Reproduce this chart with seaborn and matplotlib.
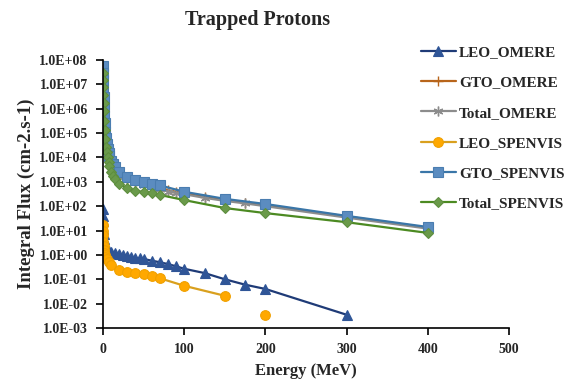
import numpy as np
import pandas as pd
import matplotlib
matplotlib.use("Agg")
import matplotlib.pyplot as plt
import seaborn as sns
from matplotlib.ticker import FuncFormatter, FixedLocator, NullLocator

# ---------------- data ----------------
omere_energy = [0.1, 0.2, 0.3, 0.5, 0.7, 1, 1.5, 2, 3, 5, 7, 10, 15, 20, 25, 30, 35, 40,
                45, 50, 60, 70, 80, 90, 100, 125, 150, 175, 200, 300, 400]
leo_omere = [75, 40, 25, 12, 7, 4.5, 3.0, 2.4, 1.9, 1.6, 1.45, 1.35, 1.2, 1.05, 0.95,
             0.88, 0.82, 0.76, 0.72, 0.68, 0.58, 0.5, 0.42, 0.34, 0.27, 0.18, 0.1, 0.06,
             0.04, 0.0035, np.nan]
gto_omere = [6e7, 3e7, 1.6e7, 6e6, 3e6, 1.3e6, 5e5, 2.5e5, 1e5, 3e4, 1.3e4, 6e3, 3.5e3,
             2.3e3, 1.8e3, 1.5e3, 1.3e3, 1.15e3, 1e3, 900, 760, 620, 450, 390, 340, 240,
             180, 140, 110, 38, 13]
total_omere = [5.5e7, 2.8e7, 1.5e7, 5.6e6, 2.8e6, 1.2e6, 4.6e5, 2.3e5, 9e4, 2.7e4,
               1.2e4, 5.5e3, 3.2e3, 2.1e3, 1.6e3, 1.35e3, 1.15e3, 1e3, 900, 800, 650, 520,
               400, 350, 310, 220, 165, 130, 100, 34, 12]

spenvis_energy = [0.1, 0.2, 0.3, 0.5, 0.7, 1, 1.5, 2, 3, 4, 5, 6, 7, 8, 10, 12, 15, 20,
                  30, 40, 50, 60, 70, 100, 150, 200, 300, 400]
gto_spenvis = [5.5e7, 3e7, 1.5e7, 6e6, 3e6, 1.2e6, 5e5, 2.5e5, 1.1e5, 6e4, 3.5e4, 2.2e4,
               1.5e4, 1.1e4, 7e3, 5.5e3, 4e3, 2.5e3, 1.6e3, 1.2e3, 1e3, 850, 720, 390,
               200, 123, 40, 14]
total_spenvis = [2.8e7, 1.5e7, 8e6, 3.5e6, 1.8e6, 8e5, 3e5, 1.4e5, 5.5e4, 2.8e4, 1.6e4,
                 1e4, 6.5e3, 4.5e3, 2.5e3, 1.8e3, 1.3e3, 800, 560, 420, 380, 340, 290,
                 178, 84, 52, 22, 8]

leo_spenvis_energy = [0.1, 0.2, 0.3, 0.5, 0.7, 1, 1.5, 2, 3, 5, 7, 10, 20, 30, 40, 50,
                      60, 70, 100, 150]
leo_spenvis = [17, 10, 6.5, 3.5, 2.3, 1.6, 1.2, 1.0, 0.85, 0.65, 0.5, 0.4, 0.25, 0.2,
               0.18, 0.16, 0.13, 0.11, 0.054, 0.021]
leo_spenvis_iso_energy = [200]
leo_spenvis_iso = [0.0035]

series_names = ["LEO_OMERE", "GTO_OMERE", "Total_OMERE", "LEO_SPENVIS",
                "GTO_SPENVIS", "Total_SPENVIS"]
x_ticks = [0, 100, 200, 300, 400, 500]
y_ticks = [1e-3, 1e-2, 1e-1, 1e0, 1e1, 1e2, 1e3, 1e4, 1e5, 1e6, 1e7, 1e8]

# ---------------- style ----------------
sns.set_theme(style="white")
plt.rcParams["font.family"] = ["Liberation Serif", "DejaVu Serif"]
plt.rcParams["font.weight"] = "bold"

fig = plt.figure(figsize=(5.73, 3.87), dpi=100)
ax = fig.add_axes([103 / 573, 1 - 328 / 387, (509 - 103) / 573, (328 - 60) / 387])

def draw(x, y, name, color, marker, ms, mfc, mec, lw=1.6, mew=0.8):
    sns.lineplot(x=x, y=y, ax=ax, color=color, marker=marker, markersize=ms,
                 markerfacecolor=mfc, markeredgecolor=mec, markeredgewidth=mew,
                 linewidth=lw, label=name, estimator=None, sort=False)

draw(omere_energy, leo_omere, series_names[0], "#1F3B77", "^", 6.5, "#2F5597", "#2F5597")
draw(omere_energy, gto_omere, series_names[1], "#B8651B", "+", 7, "#B8651B", "#B8651B", mew=1.0)
draw(omere_energy, total_omere, series_names[2], "#8C8C8C", (6, 2, 0), 7, "#8C8C8C", "#8C8C8C", mew=1.0)
draw(leo_spenvis_energy, leo_spenvis, series_names[3], "#D9A01E", "o", 7, "#FFA800", "#F0A000")
sns.lineplot(x=leo_spenvis_iso_energy, y=leo_spenvis_iso, ax=ax, color="#D9A01E",
             marker="o", markersize=7, markerfacecolor="#FFA800",
             markeredgecolor="#F0A000", linewidth=0, legend=False)
draw(spenvis_energy, gto_spenvis, series_names[4], "#3A76A8", "s", 7.5, "#5B8CC0", "#4A7DB0")
draw(spenvis_energy, total_spenvis, series_names[5], "#4C8A22", "D", 5.5, "#6A9A4A", "#5E8E3E")

ax.set_yscale("log")
ax.set_xlim(0, 500)
ax.set_ylim(1e-3, 1e8)
ax.yaxis.set_major_locator(FixedLocator(y_ticks))
ax.yaxis.set_minor_locator(NullLocator())
ax.yaxis.set_major_formatter(FuncFormatter(lambda v, p: f"{v:.1E}"))
ax.set_xticks(x_ticks)

for s in ["top", "right"]:
    ax.spines[s].set_visible(False)
for s in ["left", "bottom"]:
    ax.spines[s].set_color("black")
    ax.spines[s].set_linewidth(1.2)
ax.tick_params(axis="both", which="major", direction="out", length=5, width=1.2,
               color="black", labelsize=10, left=True, bottom=True)
ax.tick_params(axis="y", pad=6)
ax.tick_params(axis="x", pad=6)
for lab in ax.get_xticklabels() + ax.get_yticklabels():
    lab.set_fontweight("bold")

ax.set_xlabel("Energy (MeV)", fontsize=12, fontweight="bold", labelpad=5)
ax.set_ylabel("Integral Flux (cm-2.s-1)", fontsize=13.5, fontweight="bold", labelpad=3)
fig.text(258 / 573, 1 - 20 / 387, "Trapped Protons", ha="center", va="center",
         fontsize=14.5, fontweight="bold")

handles, labels = ax.get_legend_handles_labels()
if ax.get_legend() is not None:
    ax.get_legend().remove()
fig.legend(handles, labels, loc="upper left", bbox_to_anchor=(413 / 573, 1 - 38 / 387),
           frameon=False, labelspacing=1.08, handlelength=2.3,
           handletextpad=0.2, borderpad=0, prop={"weight": "bold", "size": 11})

fig.savefig("out.png", dpi=100)
